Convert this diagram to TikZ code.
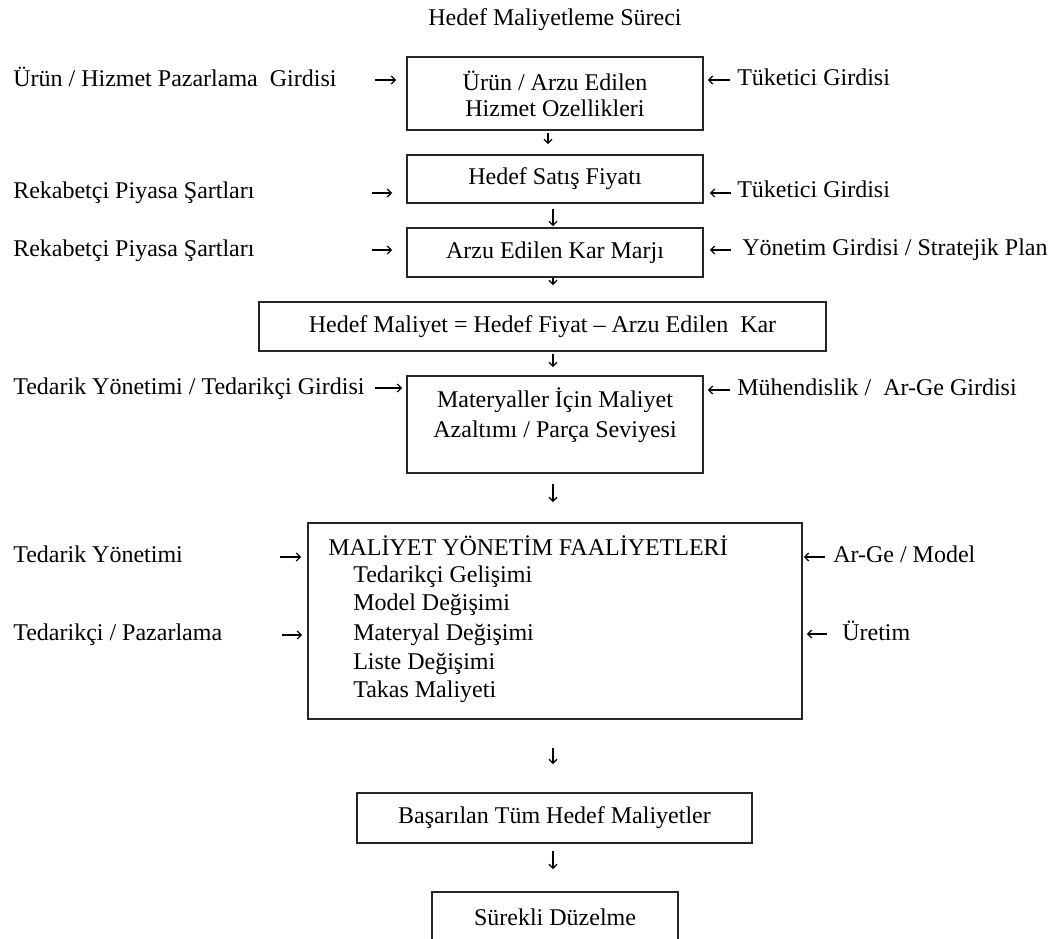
\documentclass[tikz,border=0pt]{standalone}
\usepackage{fontspec}
\setmainfont{Liberation Serif}
\usetikzlibrary{arrows.meta}
\begin{document}
\begin{tikzpicture}[x=0.75pt,y=-0.75pt,
  every node/.style={font=\fontsize{18}{21}\selectfont, inner sep=0pt, text=black},
  box/.style={draw=black!85, line width=1.1pt, inner sep=0pt},
  lbl/.style={anchor=base west},
  arr/.style={line width=0.9pt, -{Straight Barb[length=3.2pt,width=6pt]}},
]
\useasboundingbox (0,0) rectangle (1061,939);
\clip (0,0) rectangle (1061,939);

% title
\node (title) at (555,20) {Hedef Maliyetleme Süreci};

% main boxes
\node[box, minimum width=222pt, minimum height=54.75pt, align=center,
      font=\fontsize{18}{19.5}\selectfont] (b1) at (555,93.5) {Ürün / Arzu Edilen\\Hizmet Ozellikleri};
\node[box, minimum width=222pt, minimum height=36pt] (b2) at (555,179) {Hedef Satış Fiyatı};
\node[box, minimum width=222pt, minimum height=36.75pt] (b3) at (555,252.5) {Arzu Edilen Kar Marjı};
\node[box, minimum width=425.25pt, minimum height=36.75pt] (b4) at (542.5,326.5) {Hedef Maliyet = Hedef Fiyat – Arzu Edilen~ Kar};
\node[box, minimum width=222pt, minimum height=72.75pt] (b5) at (555,424.5) {};
\node[align=center, font=\fontsize{18}{22.5}\selectfont] (t5) at (555,415) {Materyaller İçin Maliyet\\Azaltımı / Parça Seviyesi};
\node[box, minimum width=370.5pt, minimum height=147pt] (b6) at (555,621) {};
\node[lbl] (h6) at (328,555) {MALİYET YÖNETİM FAALİYETLERİ};
\node[lbl] (i1) at (353,582) {Tedarikçi Gelişimi};
\node[lbl] (i2) at (353,610) {Model Değişimi};
\node[lbl] (i3) at (353,640) {Materyal Değişimi};
\node[lbl] (i4) at (353,669) {Liste Değişimi};
\node[lbl] (i5) at (353,697) {Takas Maliyeti};
\node[box, minimum width=296.25pt, minimum height=37.5pt] (b7) at (554.5,818) {Başarılan Tüm Hedef Maliyetler};
\node[box, minimum width=184.5pt, minimum height=37.5pt] (b8) at (555,917) {Sürekli Düzelme};

% left labels
\node[lbl] (l1) at (13,86) {Ürün / Hizmet Pazarlama~ Girdisi};
\node[lbl] (l2) at (13,198) {Rekabetçi Piyasa Şartları};
\node[lbl] (l3) at (13,256) {Rekabetçi Piyasa Şartları};
\node[lbl] (l4) at (13,394) {Tedarik Yönetimi / Tedarikçi Girdisi};
\node[lbl] (l5) at (13,562) {Tedarik Yönetimi};
\node[lbl] (l6) at (13,640) {Tedarikçi / Pazarlama};

% right labels
\node[lbl] (r1) at (737,85) {Tüketici Girdisi};
\node[lbl] (r2) at (737,197) {Tüketici Girdisi};
\node[lbl] (r3) at (742,255) {Yönetim Girdisi / Stratejik Plan};
\node[lbl] (r4) at (737,395) {Mühendislik /~ Ar-Ge Girdisi};
\node[lbl] (r5) at (833,562) {Ar-Ge / Model};
\node[lbl] (r6) at (842,640) {Üretim};

% left arrows
\coordinate (a1) at (375,80);
\coordinate (a2) at (372,193);
\coordinate (a3) at (372,250);
\coordinate (a4) at (375,388);
\coordinate (a5) at (280,557);
\coordinate (a6) at (282,635);
\draw[arr, shorten >=7.5pt] (a1) -- (a1 -| b1.west);
\draw[arr, shorten >=10.5pt] (a2) -- (a2 -| b2.west);
\draw[arr, shorten >=10.5pt] (a3) -- (a3 -| b3.west);
\draw[arr, shorten >=3pt] (a4) -- (a4 -| b5.west);
\draw[arr, shorten >=4.5pt] (a5) -- (a5 -| b6.west);
\draw[arr, shorten >=3.75pt] (a6) -- (a6 -| b6.west);

% right arrows
\coordinate (c1) at (730,80);
\coordinate (c2) at (731,193);
\coordinate (c3) at (731,250);
\coordinate (c4) at (730,390);
\coordinate (c5) at (825,557);
\coordinate (c6) at (827,634);
\draw[arr, shorten >=3pt] (c1) -- (c1 -| b1.east);
\draw[arr, shorten >=4.5pt] (c2) -- (c2 -| b2.east);
\draw[arr, shorten >=4.5pt] (c3) -- (c3 -| b3.east);
\draw[arr, shorten >=3pt] (c4) -- (c4 -| b5.east);
\draw[arr, shorten >=0.75pt] (c5) -- (c5 -| b6.east);
\draw[arr, shorten >=3pt] (c6) -- (c6 -| b6.east);

% down arrows
\coordinate (x1) at (548,0);
\coordinate (x2) at (553,0);
\draw[arr, shorten <=1.5pt, shorten >=7.5pt] (x1 |- b1.south) -- (x1 |- b2.north);
\draw[arr, shorten <=3.75pt, shorten >=0.75pt] (x2 |- b2.south) -- (x2 |- b3.north);
\draw[arr, shorten >=12pt] (x2 |- b3.south) -- (x2 |- b4.north);
\draw[arr, shorten <=1.5pt, shorten >=6pt] (x2 |- b4.south) -- (x2 |- b5.north);
\draw[arr, shorten <=7.5pt, shorten >=15pt] (x2 |- b5.south) -- (x2 |- b6.north);
\draw[arr, shorten <=21pt, shorten >=21pt] (x2 |- b6.south) -- (x2 |- b7.north);
\draw[arr, shorten <=5.25pt, shorten >=16.5pt] (x2 |- b7.south) -- (x2 |- b8.north);
\end{tikzpicture}
\end{document}
